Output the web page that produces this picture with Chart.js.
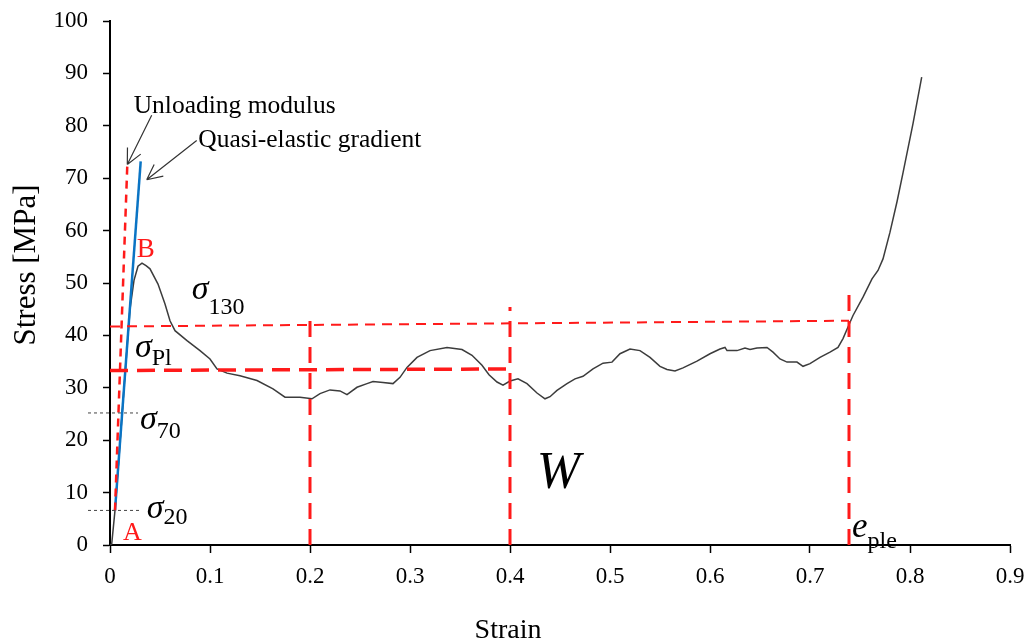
<!DOCTYPE html>
<html>
<head>
<meta charset="utf-8">
<script src="https://cdn.jsdelivr.net/npm/chart.js@4.4.1/dist/chart.umd.min.js"></script>
<style>
  html, body { margin: 0; padding: 0; background: #fff; }
  #wrap { width: 1026px; height: 643px; }
</style>
</head>
<body>
<div id="wrap"><canvas id="stressStrain"></canvas></div>
<script>
// measured compression curve
const strain = [0, 0.0017, 0.005, 0.010, 0.015, 0.020, 0.024, 0.028, 0.032, 0.036, 0.040, 0.048, 0.055, 0.060, 0.065, 0.077,
  0.090, 0.100, 0.107, 0.117, 0.130, 0.147, 0.163, 0.175, 0.190, 0.202, 0.210, 0.220, 0.230, 0.237, 0.247, 0.257,
  0.263, 0.273, 0.283, 0.290, 0.297, 0.307, 0.320, 0.337, 0.352, 0.362, 0.372, 0.379, 0.387, 0.393, 0.400, 0.408,
  0.417, 0.427, 0.435, 0.440, 0.447, 0.457, 0.465, 0.473, 0.483, 0.493, 0.502, 0.510, 0.520, 0.530, 0.540, 0.550,
  0.557, 0.565, 0.573, 0.587, 0.600, 0.610, 0.615, 0.617, 0.627, 0.635, 0.640, 0.647, 0.657, 0.663, 0.670, 0.677,
  0.687, 0.693, 0.700, 0.710, 0.720, 0.728, 0.733, 0.738, 0.743, 0.753, 0.762, 0.768, 0.773, 0.780, 0.787, 0.793,
  0.803, 0.8117];
const stress = [0, 0.2, 6.6, 19.5, 32.5, 45.0, 50.5, 53.2, 53.8, 53.3, 52.7, 49.8, 46.0, 42.8, 40.9, 39.0,
  37.1, 35.5, 33.6, 32.8, 32.3, 31.4, 29.8, 28.2, 28.2, 27.9, 28.9, 29.6, 29.4, 28.7, 30.1, 30.8,
  31.2, 31.0, 30.8, 32.0, 33.9, 35.8, 37.1, 37.7, 37.3, 36.2, 34.3, 32.5, 31.1, 30.5, 31.3, 31.7,
  30.8, 29.0, 27.9, 28.3, 29.5, 30.8, 31.7, 32.2, 33.6, 34.7, 34.9, 36.5, 37.4, 37.1, 35.8, 34.1,
  33.5, 33.2, 33.8, 35.1, 36.5, 37.4, 37.7, 37.1, 37.1, 37.6, 37.3, 37.6, 37.7, 36.8, 35.5, 34.9,
  34.9, 34.1, 34.6, 35.8, 36.8, 37.7, 39.4, 41.6, 43.8, 47.3, 50.8, 52.4, 54.6, 59.7, 65.5, 71.0,
  80.4, 89.3];

// gradient lines from A to B
const quasiElasticStrain = [0.005, 0.0307];
const quasiElasticStress = [6.6, 73.2];
const unloadingStrain = [0.005, 0.0173];
const unloadingStress = [6.6, 72.5];

// characteristic stress levels
const sigma130Strain = [0, 0.739];
const sigma130Stress = [41.7, 42.8];
const sigmaPlStrain = [0, 0.4];
const sigmaPlStress = [33.3, 33.6];
const sigma70Strain = [-0.022, 0.028];
const sigma70Stress = [25.2, 25.2];
const sigma20Strain = [-0.022, 0.030];
const sigma20Stress = [6.6, 6.6];

// strain markers (0.2, 0.4 and e_ple) and their top ends
const markerStrain = [0.2, 0.4, 0.739];
const markerTop = [44.4, 45.4, 47.9];

const xTickLabels = ['0', '0.1', '0.2', '0.3', '0.4', '0.5', '0.6', '0.7', '0.8', '0.9'];
const yTickLabels = ['0', '10', '20', '30', '40', '50', '60', '70', '80', '90', '100'];

const pts = (xs, ys) => xs.map((x, i) => ({ x: x, y: ys[i] }));

const SERIF = '"Liberation Serif", "Times New Roman", serif';
const RED = '#ff1a1a';

function line(data, color, width, dash, extra) {
  return Object.assign({
    data: data,
    showLine: true,
    borderColor: color,
    backgroundColor: color,
    borderWidth: width,
    borderDash: dash || [],
    pointRadius: 0,
    tension: 0
  }, extra || {});
}

const datasets = [
  line(pts(sigma130Strain, sigma130Stress), RED, 2, [10, 7]),
  line(pts(sigmaPlStrain, sigmaPlStress), RED, 3.5, [18, 9]),
  line(pts(sigma70Strain, sigma70Stress), '#444', 1, [3, 3], { clip: false }),
  line(pts(sigma20Strain, sigma20Stress), '#444', 1, [3, 3], { clip: false }),
  line(pts(unloadingStrain, unloadingStress), RED, 2.5, [8, 6]),
  line(pts(quasiElasticStrain, quasiElasticStress), '#0a74c4', 2.5),
  line(pts(strain, stress), '#3c3c3c', 1.5)
];
markerStrain.forEach((s, i) => {
  datasets.unshift(line([{ x: s, y: 0 }, { x: s, y: markerTop[i] }], RED, 3, [16, 10]));
});

// text labels and arrows, anchored in strain / stress units
const labels = [
  { x: 0.0237, y: 82.35, parts: [{ t: 'Unloading modulus', f: '25.5px ' + SERIF }] },
  { x: 0.0883, y: 75.9, parts: [{ t: 'Quasi-elastic gradient', f: '25.5px ' + SERIF }] },
  { x: 0.0267, y: 54.9, parts: [{ t: 'B', f: '27px ' + SERIF, c: RED }] },
  { x: 0.013, y: 0.86, parts: [{ t: 'A', f: '26px ' + SERIF, c: RED }] },
  { x: 0.0817, y: 47.0, parts: [{ t: 'σ', f: 'italic 34px ' + SERIF }, { t: '130', f: '24px ' + SERIF, dy: 15 }] },
  { x: 0.025, y: 35.8, parts: [{ t: 'σ', f: 'italic 34px ' + SERIF }, { t: 'Pl', f: '24px ' + SERIF, dy: 8 }] },
  { x: 0.030, y: 22.2, parts: [{ t: 'σ', f: 'italic 34px ' + SERIF }, { t: '70', f: '24px ' + SERIF, dy: 9 }] },
  { x: 0.0367, y: 5.06, parts: [{ t: 'σ', f: 'italic 34px ' + SERIF }, { t: '20', f: '24px ' + SERIF, dy: 6 }] },
  { x: 0.742, y: 1.6, parts: [{ t: 'e', f: 'italic 35px ' + SERIF }, { t: 'ple', f: '24px ' + SERIF, dy: 11 }] },
  { x: 0.4267, y: 10.8, parts: [{ t: 'W', f: 'italic 52px ' + SERIF }] }
];
const arrows = [
  { from: [0.0417, 82.0], to: [0.0173, 72.6] },
  { from: [0.0867, 77.2], to: [0.0367, 69.7] }
];

const annotate = {
  id: 'annotate',
  afterDatasetsDraw(chart) {
    const { ctx, scales: { x, y } } = chart;
    ctx.save();
    ctx.textBaseline = 'alphabetic';
    ctx.textAlign = 'left';
    labels.forEach(l => {
      let px = x.getPixelForValue(l.x);
      const py = y.getPixelForValue(l.y);
      l.parts.forEach(p => {
        ctx.font = p.f;
        ctx.fillStyle = p.c || '#000';
        ctx.fillText(p.t, px, py + (p.dy || 0));
        px += ctx.measureText(p.t).width;
      });
    });
    ctx.strokeStyle = '#333';
    ctx.lineWidth = 1.2;
    arrows.forEach(a => {
      const x0 = x.getPixelForValue(a.from[0]), y0 = y.getPixelForValue(a.from[1]);
      const x1 = x.getPixelForValue(a.to[0]), y1 = y.getPixelForValue(a.to[1]);
      const ang = Math.atan2(y1 - y0, x1 - x0);
      ctx.beginPath();
      ctx.moveTo(x0, y0);
      ctx.lineTo(x1, y1);
      [-0.45, 0.45].forEach(d => {
        ctx.moveTo(x1, y1);
        ctx.lineTo(x1 - 17 * Math.cos(ang + d), y1 - 17 * Math.sin(ang + d));
      });
      ctx.stroke();
    });
    // axis titles
    ctx.fillStyle = '#000';
    ctx.font = '28px ' + SERIF;
    ctx.textAlign = 'center';
    ctx.textBaseline = 'middle';
    ctx.fillText('Strain', 508, 631);
    ctx.translate(27, 265);
    ctx.rotate(-Math.PI / 2);
    ctx.font = '31px ' + SERIF;
    ctx.fillText('Stress [MPa]', 0, 0);
    ctx.restore();
  }
};

new Chart(document.getElementById('stressStrain'), {
  type: 'scatter',
  data: { datasets: datasets },
  options: {
    responsive: true,
    maintainAspectRatio: false,
    animation: false,
    events: [],
    layout: { padding: { top: 21, right: 16, left: 0, bottom: 0 } },
    plugins: { legend: { display: false }, tooltip: { enabled: false } },
    scales: {
      x: {
        type: 'linear',
        min: 0,
        max: 0.9,
        afterFit: s => { s.height = 98; s.paddingLeft = 0; s.paddingRight = 0; },
        afterBuildTicks: s => { s.ticks = xTickLabels.map(t => ({ value: parseFloat(t) })); },
        ticks: {
          callback: (v, i) => xTickLabels[i],
          color: '#000',
          padding: 10,
          maxRotation: 0,
          font: { family: SERIF, size: 23 }
        },
        grid: { drawOnChartArea: false, drawTicks: true, tickLength: 8, color: '#000', tickWidth: 1.5 },
        border: { display: true, color: '#000', width: 2 }
      },
      y: {
        type: 'linear',
        min: 0,
        max: 100,
        afterFit: s => { s.width = 110; s.paddingTop = 0; s.paddingBottom = 0; },
        afterBuildTicks: s => { s.ticks = yTickLabels.map(t => ({ value: parseFloat(t) })); },
        ticks: {
          callback: (v, i) => yTickLabels[i],
          color: '#000',
          padding: 15,
          font: { family: SERIF, size: 23 }
        },
        grid: { drawOnChartArea: false, drawTicks: true, tickLength: 7, color: '#000', tickWidth: 1.5 },
        border: { display: true, color: '#000', width: 2 }
      }
    }
  },
  plugins: [annotate]
});
</script>
</body>
</html>
